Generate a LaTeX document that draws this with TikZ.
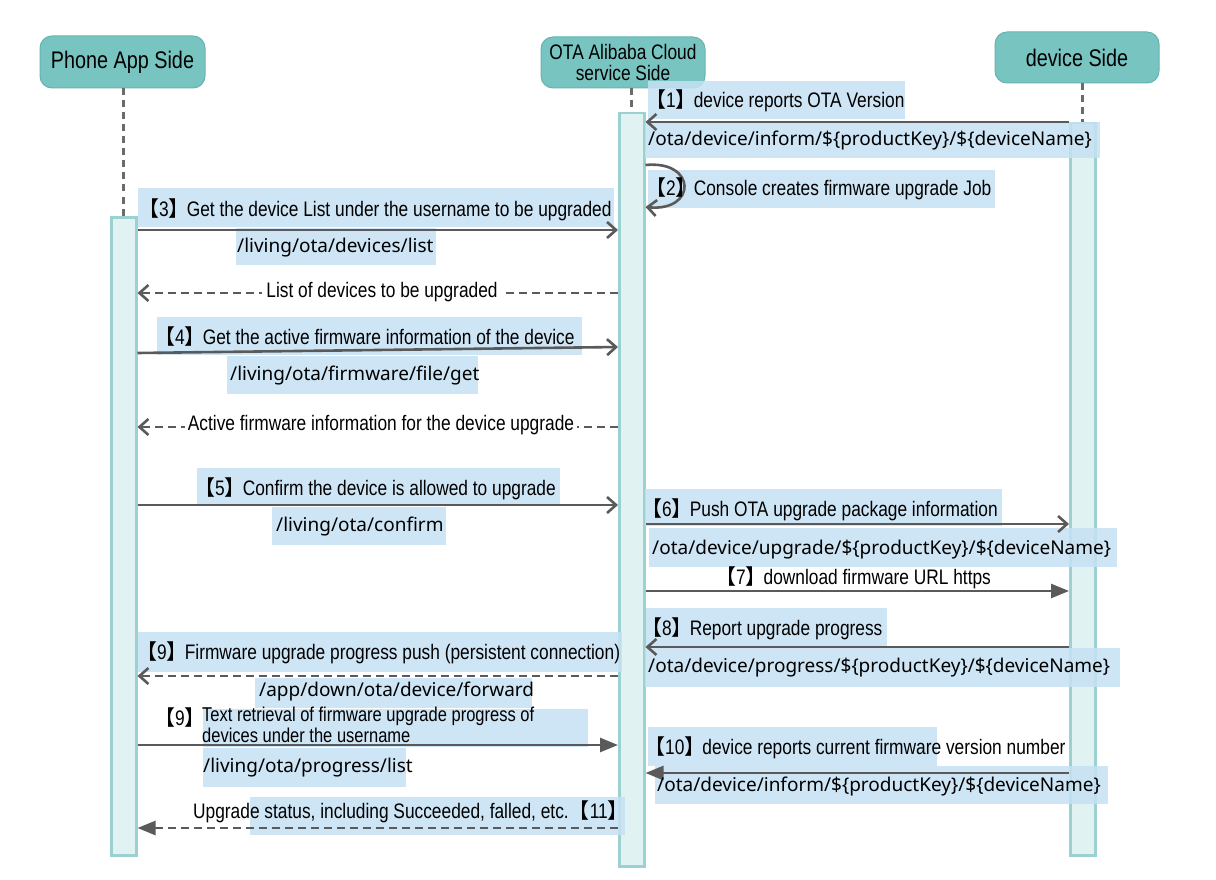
\documentclass[tikz,border=0pt]{standalone}
\usepackage{fontspec}
\usetikzlibrary{arrows.meta}
\newfontfamily\lblfam[FakeStretch=0.825]{Liberation Sans}
\newfontfamily\pthfam{Noto Sans}
\newfontfamily\cjkfam{Noto Sans CJK SC}
\newcommand\lbk[1]{{\cjkfam 【}#1{\cjkfam 】}\kern-3pt}
\definecolor{hdrf}{HTML}{78C4C1}
\definecolor{hdrb}{HTML}{66B4B1}
\definecolor{barf}{HTML}{E0F2F1}
\definecolor{barb}{HTML}{9BD1D0}
\definecolor{hlc}{HTML}{C6E1F4}
\definecolor{msgc}{HTML}{5A5A5A}
\definecolor{lifec}{HTML}{6B6B6B}
\tikzset{
 hdr/.style={draw=hdrb, fill=hdrf, rounded corners=12pt, line width=1pt, minimum width=164pt, minimum height=51pt, align=center, inner sep=0pt, font=\lblfam\fontsize{24}{22}\selectfont},
 bar/.style={draw=barb, fill=barf, line width=2.5pt, inner sep=0pt, minimum width=25pt},
 life/.style={draw=lifec, line width=3pt, dash pattern=on 7pt off 5pt},
 hl/.style={fill=hlc, fill opacity=0.85},
 lbl/.style={font=\lblfam\fontsize{21}{19}\selectfont, inner sep=0pt, anchor=west},
 pth/.style={font=\pthfam\fontsize{19}{20}\selectfont, inner sep=0pt, anchor=west},
 msg/.style={draw=msgc, line width=2.6pt},
 ret/.style={msg, dash pattern=on 8pt off 5pt},
 openhead/.style={-{Straight Barb[length=9pt,width=16pt]}},
 fillhead/.style={-{Triangle[length=18pt,width=14pt]}},
}
\begin{document}
\begin{tikzpicture}[x=1pt,y=-1pt]
\useasboundingbox (0,0) rectangle (1216,880);
\fill[white] (0,0) rectangle (1216,880);
% headers
\node[hdr, minimum width=165pt, minimum height=52pt] (hA) at (122.5,62) {Phone App Side};
\node[hdr, font=\lblfam\fontsize{21}{21}\selectfont] (hB) at (623,62.5) {OTA Alibaba Cloud\\service Side};
\node[hdr] (hC) at (1077,57.5) {device Side};
% activation bars
\node[bar, minimum height=638pt, anchor=north west] (barA) at (110,216) {};
\node[bar, minimum height=753pt, anchor=north west] (barB) at (618,112) {};
\node[bar, minimum height=732pt, anchor=north west] (barC) at (1069,122) {};
% lifelines
\draw[life] (hA.south -| barA.north) -- (barA.north);
\draw[life] (hB.south -| barB.north) -- (barB.north);
\draw[life] (hC.south -| barC.north) -- (barC.north);
% highlights
\fill[hl] (648,81) rectangle (905,119);
\fill[hl] (645,122) rectangle (1100,158);
\fill[hl] (648,170) rectangle (995,208);
\fill[hl] (138,188) rectangle (614,227);
\fill[hl] (236,228) rectangle (436,265);
\fill[hl] (157,317) rectangle (582,355);
\fill[hl] (227,356) rectangle (478,394);
\fill[hl] (197,468) rectangle (560,506);
\fill[hl] (272,507) rectangle (446,545);
\fill[hl] (645,489) rectangle (1002,526);
\fill[hl] (649,528) rectangle (1117,567);
\fill[hl] (646,608) rectangle (887,646);
\fill[hl] (645,648) rectangle (1120,687);
\fill[hl] (138,632) rectangle (622,672);
\fill[hl] (255,678) rectangle (532,708);
\fill[hl] (203,709) rectangle (588,747);
\fill[hl] (203,748) rectangle (406,787);
\fill[hl] (648,727) rectangle (937,766);
\fill[hl] (655,766) rectangle (1108,804);
\fill[hl] (250,797) rectangle (625,835);
% messages
\draw[msg, openhead] (barC.west |- 0,122) -- (barB.east |- 0,122);
\draw[msg, openhead] (barB.east |- 0,165) .. controls (697,160) and (697,212) .. (barB.east |- 0,207);
\draw[msg, openhead] (barA.east |- 0,230) -- (barB.west |- 0,230);
\draw[ret, openhead] (barB.west |- 0,293) -- (barA.east |- 0,293);
\draw[msg, openhead] (barA.east |- 0,353) -- (barB.west |- 0,347);
\draw[ret, openhead] (barB.west |- 0,427) -- (barA.east |- 0,427);
\draw[msg, openhead] (barA.east |- 0,505) -- (barB.west |- 0,505);
\draw[msg, openhead] (barB.east |- 0,524) -- (barC.west |- 0,524);
\draw[msg, fillhead] (barB.east |- 0,591) -- (barC.west |- 0,591);
\draw[msg, openhead] (barC.west |- 0,647) -- (barB.east |- 0,647);
\draw[ret, openhead] (barB.west |- 0,676) -- (barA.east |- 0,676);
\draw[msg, fillhead] (barA.east |- 0,745) -- (barB.west |- 0,745);
\draw[msg, fillhead] (barC.west |- 0,773) -- (barB.east |- 0,773);
\draw[ret, fillhead] (barB.west |- 0,828) -- (barA.east |- 0,828);
% texts
\node[lbl] (l1) at (645,101) {\lbk{1}device reports OTA Version};
\node[pth] (p1) at (648,141) {/ota/device/inform/\$\{productKey\}/\$\{deviceName\}};
\node[lbl] (l2) at (645,189) {\lbk{2}Console creates firmware upgrade Job};
\node[lbl] (l3) at (138,210) {\lbk{3}Get the device List under the username to be upgraded};
\node[pth] (p3) at (237,248) {/living/ota/devices/list};
\node[lbl, fill=white, inner xsep=4pt, inner ysep=2pt, anchor=center] (r4) at (382,292) {List of devices to be upgraded};
\node[lbl] (l4) at (154,337) {\lbk{4}Get the active firmware information of the device};
\node[pth] (p4) at (230,376) {/living/ota/firmware/file/get};
\node[lbl, fill=white, inner xsep=3pt, inner ysep=2pt, anchor=center] (r5) at (381,425) {Active firmware information for the device upgrade};
\node[lbl] (l5) at (194,489) {\lbk{5}Confirm the device is allowed to upgrade};
\node[pth] (p5) at (276,527) {/living/ota/confirm};
\node[lbl] (l6) at (641,510) {\lbk{6}Push OTA upgrade package information};
\node[pth] (p6) at (652,550) {/ota/device/upgrade/\$\{productKey\}/\$\{deviceName\}};
\node[lbl, anchor=center] (l7) at (853,578) {\lbk{7}download firmware URL https};
\node[lbl] (l8) at (641,629) {\lbk{8}Report upgrade progress};
\node[pth] (p8) at (648,668) {/ota/device/progress/\$\{productKey\}/\$\{deviceName\}};
\node[lbl] (l9a) at (136,653) {\lbk{9}Firmware upgrade progress push (persistent connection)};
\node[pth] (p9a) at (259,692) {/app/down/ota/device/forward};
\node[lbl, anchor=east] (l9n) at (203,718) {\lbk{9}};
\node[lbl, align=left, anchor=north west, font=\lblfam\fontsize{20}{20.5}\selectfont] (l9b) at (202,707) {Text retrieval of firmware upgrade progress of\\devices under the username};
\node[pth] (p9b) at (203,768) {/living/ota/progress/list};
\node[lbl] (l10) at (644,748) {\lbk{10}device reports current firmware version number};
\node[pth] (p10) at (657,787) {/ota/device/inform/\$\{productKey\}/\$\{deviceName\}};
\node[lbl] (l11) at (193,812) {Upgrade status, including Succeeded, falled, etc.\lbk{11}};
\end{tikzpicture}
\end{document}
